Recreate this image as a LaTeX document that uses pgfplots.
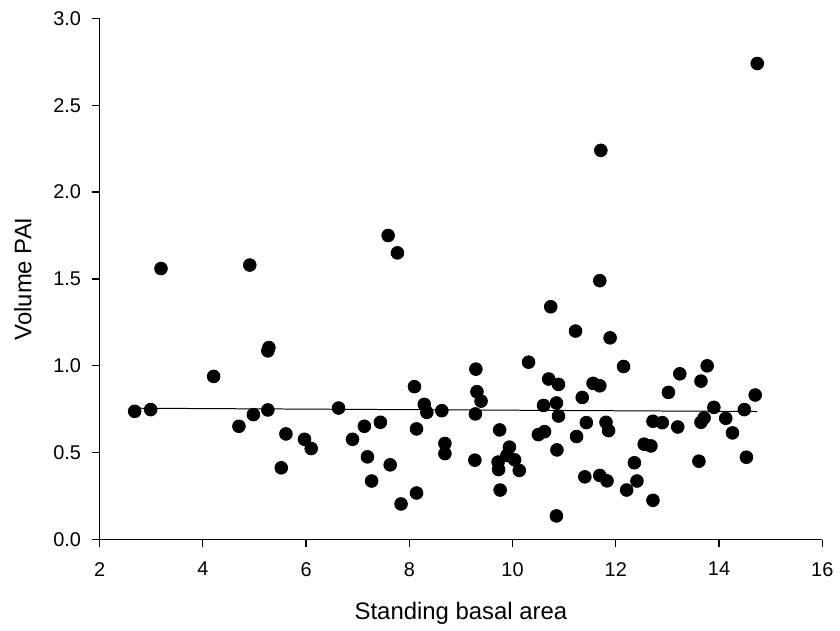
\documentclass[border=0pt]{standalone}
\usepackage{fontspec}
\setmainfont{Liberation Sans}
\usepackage{pgfplots}
\pgfplotsset{compat=1.18}
\begin{document}
\begin{tikzpicture}
\begin{axis}[
  scale only axis,
  width=363pt, height=261.8pt,
  xmin=2, xmax=16, ymin=0, ymax=3,
  axis x line*=bottom, axis y line*=left,
  axis line style={black, line width=0.6pt},
  xtick={2,4,...,16},
  ytick={0,0.5,...,3.0},
  tick align=outside,
  major tick length=3.8pt,
  tick style={black, line width=0.6pt},
  /pgf/number format/assume math mode=true,
  yticklabel style={/pgf/number format/fixed, /pgf/number format/fixed zerofill, /pgf/number format/precision=1, xshift=-2pt},
  ticklabel style={font=\fontsize{10}{12}\selectfont},
  xticklabel style={yshift=-4pt},
  xlabel={Standing basal area},
  ylabel={Volume PAI},
  label style={font=\fontsize{12}{14}\selectfont},
  xlabel style={at={(axis description cs:0.5,0)}, anchor=base, yshift=-40pt},
  ylabel style={at={(axis description cs:0,0.5)}, anchor=base, yshift=34.2pt},
  clip=false,
]
\addplot[only marks, mark=*, mark size=3.2pt, black] coordinates {
(3.19,1.56) (4.91,1.58) (7.59,1.75) (7.77,1.65)
(14.74,2.74) (11.71,2.24) (11.69,1.49) (10.74,1.34) (11.22,1.20)
(2.68,0.738) (2.99,0.748) (4.21,0.939) (5.28,1.105) (5.26,1.086)
(5.26,0.746) (4.98,0.719) (4.70,0.652) (5.61,0.608) (5.52,0.413)
(5.97,0.577) (6.10,0.524) (6.63,0.757) (6.90,0.577) (7.13,0.652)
(7.19,0.476) (7.27,0.337) (7.44,0.675) (7.63,0.430) (7.84,0.205)
(8.10,0.880) (8.14,0.637) (8.14,0.268) (8.29,0.778) (8.34,0.732)
(8.63,0.742) (8.69,0.553) (8.69,0.495)
(9.29,0.981) (9.31,0.851) (9.39,0.797) (9.28,0.723) (9.27,0.457)
(9.75,0.631) (9.72,0.446) (9.73,0.403) (9.76,0.285) (9.94,0.532)
(9.89,0.484) (10.04,0.459) (10.13,0.398) (10.31,1.021) (10.70,0.924)
(10.89,0.893) (10.60,0.772) (10.85,0.786) (10.89,0.711) (10.50,0.604)
(10.62,0.621) (10.86,0.516) (10.85,0.136) (11.35,0.818) (11.24,0.593)
(11.43,0.673) (11.40,0.361) (11.56,0.899) (11.69,0.885) (11.89,1.161)
(11.81,0.675) (11.86,0.627) (11.69,0.369) (11.83,0.338) (12.15,0.996)
(12.21,0.285) (12.36,0.442) (12.41,0.337) (12.55,0.549) (12.68,0.539)
(12.72,0.226) (12.72,0.681) (12.90,0.673) (13.02,0.847) (13.24,0.954)
(13.20,0.648) (13.77,1.000) (13.65,0.912) (13.90,0.761) (13.71,0.700)
(13.65,0.675) (13.61,0.451) (14.13,0.698) (14.26,0.614) (14.49,0.748)
(14.53,0.474) (14.70,0.832)
};
\addplot[black, line width=0.5pt] coordinates {(2.68,0.756) (14.74,0.737)};
\end{axis}
\path (current axis.south west) ++(-50pt,-45.5pt) rectangle ++(420pt,316.5pt);
\end{tikzpicture}
\end{document}
